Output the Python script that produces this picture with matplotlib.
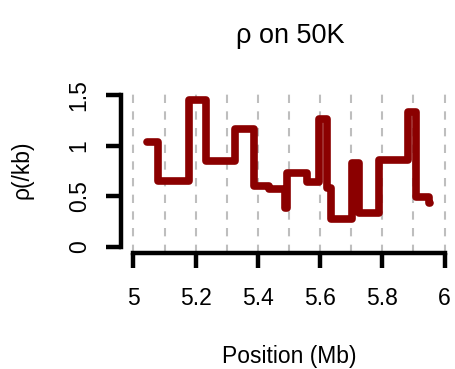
import numpy as np
import matplotlib
matplotlib.use("Agg")
import matplotlib.pyplot as plt

plt.rcParams["font.family"] = ["Liberation Sans", "DejaVu Sans"]

# recombination rate in 50 kb windows (step edges in Mb, rate per kb)
edges = [5.045, 5.080, 5.177, 5.233, 5.327, 5.388, 5.435, 5.487, 5.493, 5.557,
         5.597, 5.621, 5.635, 5.702, 5.726, 5.788, 5.881, 5.908, 5.949, 5.952]
rho = [1.034, 0.655, 1.451, 0.849, 1.165, 0.602, 0.576, 0.38, 0.727, 0.645,
       1.264, 0.58, 0.28, 0.826, 0.333, 0.859, 1.33, 0.497, 0.43]

xticks = [5, 5.2, 5.4, 5.6, 5.8, 6]
xticklabels = ["5", "5.2", "5.4", "5.6", "5.8", "6"]
yticks = [0, 0.5, 1, 1.5]
yticklabels = ["0", "0.5", "1", "1.5"]
gridx = np.round(np.arange(5, 6.01, 0.1), 1)

W, H = 456, 369
fig = plt.figure(figsize=(W / 100, H / 100), dpi=100)
ax = fig.add_axes([121 / W, (H - 253) / H, 336 / W, 164 / H])
ax.set_xlim(4.96, 6.04)
ax.set_ylim(-0.06, 1.56)

ax.vlines(gridx, -0.06, 1.56, colors="#bebebe", linewidth=1.5,
          linestyles=(0, (4, 4)), zorder=1)

ax.stairs(rho, edges, baseline=None, color="#8b0000", linewidth=5.5,
          capstyle="round", joinstyle="round", zorder=3)

for s in ["top", "right"]:
    ax.spines[s].set_visible(False)
ax.spines["left"].set_bounds(0, 1.5)
ax.spines["bottom"].set_bounds(5, 6)
for s in ["left", "bottom"]:
    ax.spines[s].set_linewidth(3.2)

ax.set_xticks(xticks, xticklabels)
ax.set_yticks(yticks, yticklabels)
ax.tick_params(axis="both", length=10.8, width=3.2, labelsize=16.5)
ax.tick_params(axis="x", pad=14)
ax.tick_params(axis="y", pad=11, labelrotation=90)
for lab in ax.get_yticklabels():
    lab.set_va("center")

fig.text(290 / W, 1 - 36 / H, "ρ on 50K", ha="center", va="center", fontsize=19.5)
fig.text(289 / W, 1 - 356 / H, "Position (Mb)", ha="center", va="center", fontsize=16.5)
fig.text(22 / W, 1 - 170 / H, "ρ(/kb)", ha="center", va="center", rotation=90, fontsize=16.5)

fig.savefig("out.png", dpi=100)
